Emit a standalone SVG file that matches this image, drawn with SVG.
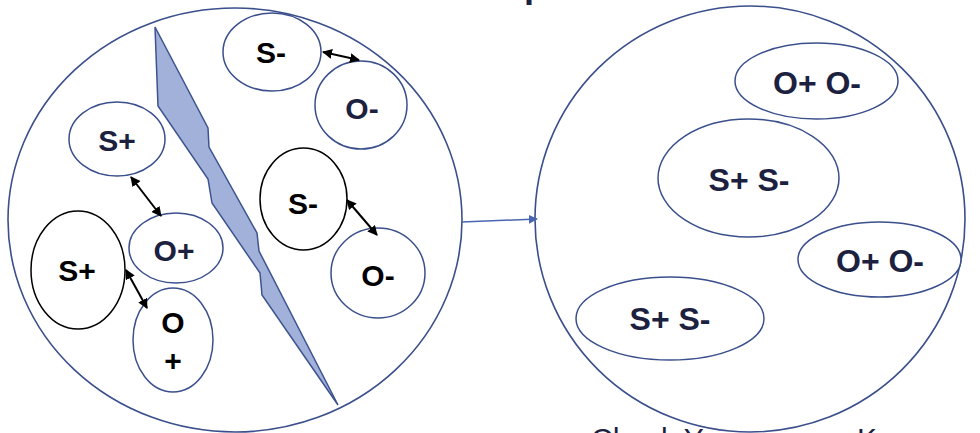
<svg xmlns="http://www.w3.org/2000/svg" width="980" height="433" viewBox="0 0 980 433">
  <defs>
    <marker id="ah" viewBox="0 0 10 10" refX="9" refY="5" markerWidth="5" markerHeight="5" orient="auto-start-reverse">
      <path d="M0,0 L10,5 L0,10 z" fill="#000"/>
    </marker>
    <marker id="bh" viewBox="0 0 10 10" refX="9" refY="5" markerWidth="6" markerHeight="6" orient="auto">
      <path d="M0,0 L10,5 L0,10 z" fill="#4a66b0"/>
    </marker>
  </defs>
  <style>
    .big { fill: none; stroke: #3a4f8c; stroke-width: 1.6; }
    .node { fill: #fff; stroke: #3a4f8c; stroke-width: 1.5; }
    .nodeb { fill: #fff; stroke: #000; stroke-width: 1.5; }
    .t { font-family: "Liberation Sans", Arial, sans-serif; font-weight: bold; font-size: 30px; text-anchor: middle; }
    .tr { font-family: "Liberation Sans", Arial, sans-serif; font-weight: bold; font-size: 32px; text-anchor: middle; fill: #1c2140; }
    .navy { fill: #1c2140; }
    .blk { fill: #000; }
    .link { stroke: #000; stroke-width: 2; fill: none; marker-start: url(#ah); marker-end: url(#ah); }
    .flow { stroke: #4a66b0; stroke-width: 1.5; fill: none; marker-end: url(#bh); }
  </style>
  <rect width="980" height="433" fill="#fff"/>

  <text x="524" y="-3" style="font-family:'Liberation Sans',Arial,sans-serif;font-weight:bold;font-size:36px;fill:#1c2140">p</text>

  <g id="left-container">
    <ellipse class="big" cx="235" cy="220" rx="227" ry="212"/>
  </g>
  <g id="crack">
    <polygon points="155,27 208,128 209,147 257,233 259,251 338,405 262,295 260,273 212,203 208,179 158,106" fill="#a2b1d9" stroke="#3c5390" stroke-width="1.5" stroke-linejoin="miter"/>
  </g>

  <g id="right-container">
    <ellipse class="big" cx="750" cy="219" rx="215" ry="213"/>
  </g>

  <g id="n-sminus-top">
    <ellipse class="node" cx="272" cy="52" rx="49" ry="39"/>
    <text class="t blk" x="271" y="63">S-</text>
  </g>
  <g id="n-ominus-top">
    <ellipse class="node" cx="361" cy="105" rx="46" ry="44"/>
    <text class="t navy" x="362" y="119">O-</text>
  </g>
  <g id="n-splus-top">
    <ellipse class="node" cx="117" cy="139" rx="48" ry="37"/>
    <text class="t navy" x="117" y="151">S+</text>
  </g>
  <g id="n-sminus-mid">
    <ellipse class="nodeb" cx="303.5" cy="199" rx="43.5" ry="51"/>
    <text class="t blk" x="303" y="214">S-</text>
  </g>
  <g id="n-ominus-bot">
    <ellipse class="node" cx="378" cy="273" rx="47" ry="45"/>
    <text class="t blk" x="378" y="286">O-</text>
  </g>
  <g id="n-oplus-mid">
    <ellipse class="node" cx="176" cy="248" rx="47" ry="35"/>
    <text class="t navy" x="174" y="261">O+</text>
  </g>
  <g id="n-splus-left">
    <ellipse class="nodeb" cx="78" cy="270" rx="47" ry="59"/>
    <text class="t blk" x="77" y="281">S+</text>
  </g>
  <g id="n-oplus-bot">
    <ellipse class="node" cx="173" cy="340" rx="40" ry="52"/>
    <text class="t blk" x="173" y="333">O</text>
    <text class="t blk" x="173" y="371">+</text>
  </g>

  <g id="n-r-oo-top">
    <ellipse class="node" cx="816.5" cy="81" rx="81.5" ry="38"/>
    <text class="tr" x="817" y="94">O+ O-</text>
  </g>
  <g id="n-r-ss-mid">
    <ellipse class="node" cx="748.5" cy="178" rx="90.5" ry="59"/>
    <text class="tr" x="749" y="191">S+ S-</text>
  </g>
  <g id="n-r-oo-right">
    <ellipse class="node" cx="879.5" cy="259.5" rx="81.5" ry="37.5"/>
    <text class="tr" x="880" y="272">O+ O-</text>
  </g>
  <g id="n-r-ss-bot">
    <ellipse class="node" cx="670" cy="318.5" rx="94" ry="41.5"/>
    <text class="tr" x="670" y="330">S+ S-</text>
  </g>

  <g id="connectors">
    <line class="link" x1="323" y1="52" x2="359" y2="60"/>
    <line class="link" x1="131" y1="177" x2="161" y2="216"/>
    <line class="link" x1="347" y1="200" x2="377" y2="235"/>
    <line class="link" x1="126" y1="270" x2="147" y2="308"/>
    <line class="flow" x1="462" y1="222" x2="537" y2="219"/>
  </g>

  <text x="591" y="449" style="font-family:'Liberation Sans',Arial,sans-serif;font-size:30px;fill:#1c2140">Chuck Y</text>
  <text x="857" y="449" style="font-family:'Liberation Sans',Arial,sans-serif;font-size:30px;fill:#1c2140">K</text>
</svg>
